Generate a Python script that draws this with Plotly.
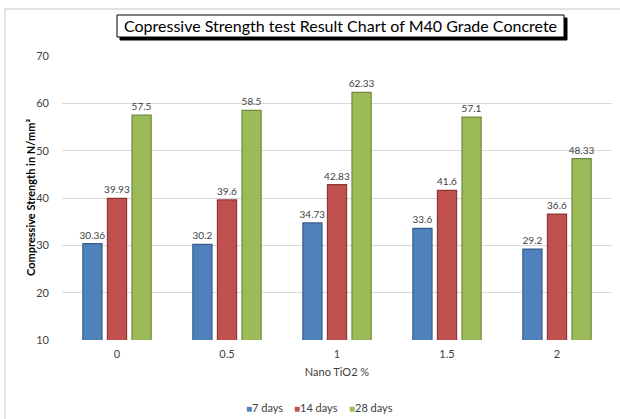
import plotly.graph_objects as go

categories = ["0", "0.5", "1", "1.5", "2"]
series_names = ["7 days", "14 days", "28 days"]
days7 = [30.36, 30.2, 34.73, 33.6, 29.2]
days14 = [39.93, 39.6, 42.83, 41.6, 36.6]
days28 = [57.5, 58.5, 62.33, 57.1, 48.33]
y_ticks = [10, 20, 30, 40, 50, 60, 70]

fills = ["#4F81BD", "#C0504D", "#9BBB59"]
lines = ["#385D8A", "#8C3836", "#71893F"]

W, H = 620, 419
L, R, T, B = 62, 612, 56, 340

def px(x):
    return (x - L) / (R - L)

def py(y):
    return (B - y) / (B - T)

FONT = "Lato, Open Sans, sans-serif"

fig = go.Figure()
for name, vals, fc, lc in zip(series_names, [days7, days14, days28], fills, lines):
    fig.add_trace(go.Bar(
        x=categories, y=vals, name=name,
        marker=dict(color=fc, line=dict(color=lc, width=1.2)),
        text=[str(v) for v in vals], textposition="outside",
        textfont=dict(size=10, color="#404040", family=FONT),
        constraintext="none",
        cliponaxis=False, showlegend=False,
    ))

fig.update_layout(
    width=W, height=H,
    margin=dict(l=L, r=W - R, t=T, b=H - B, autoexpand=False),
    paper_bgcolor="white", plot_bgcolor="white",
    barmode="group", bargap=0.33, bargroupgap=0.22,
    font=dict(family=FONT, color="#404040", size=11),
    xaxis=dict(type="category", showgrid=False, showline=False, ticks="", zeroline=False,
               ticklabelstandoff=6,
               tickfont=dict(size=11, color="#404040"),
               title=dict(text="Nano TiO2 %", font=dict(size=11, color="#404040"), standoff=9)),
    yaxis=dict(range=[10, 70], tickvals=y_ticks, showgrid=True, gridcolor="#D9D9D9", gridwidth=1,
               zeroline=False, showline=False, ticks="", ticklabelstandoff=12,
               tickfont=dict(size=11, color="#404040")),
)

# y-axis title
fig.add_annotation(xref="paper", yref="paper", x=px(30), y=py(198), showarrow=False,
                   textangle=-90, xanchor="center", yanchor="middle",
                   text="<b>Compressive Strength in N/mm²</b>",
                   font=dict(size=11, color="#000000", family=FONT))

# custom legend
legend_x = [244, 292, 347]
for name, fc, lx in zip(series_names, fills, legend_x):
    fig.add_annotation(xref="paper", yref="paper", x=px(lx), y=py(407), showarrow=False,
                       xanchor="left", yanchor="middle",
                       text=f'<span style="color:{fc};font-size:10px">■</span>{name}',
                       font=dict(size=11, color="#404040", family=FONT))

# outer border (left and top edges)
fig.add_shape(type="line", xref="paper", yref="paper",
              x0=px(5), y0=py(9), x1=px(5), y1=py(419),
              line=dict(color="#D9D9D9", width=1.5), layer="below")
fig.add_shape(type="line", xref="paper", yref="paper",
              x0=px(5), y0=py(9), x1=px(620), y1=py(9),
              line=dict(color="#D9D9D9", width=1.5), layer="below")
# white cover at right edge
fig.add_shape(type="rect", xref="paper", yref="paper",
              x0=px(612.5), y0=py(419), x1=px(620), y1=py(10),
              line=dict(width=0), fillcolor="#FFFFFF", layer="above")
# title shadow and box
fig.add_shape(type="rect", xref="paper", yref="paper",
              x0=px(120), y0=py(40), x1=px(567), y1=py(18),
              line=dict(color="#000000", width=1), fillcolor="#000000")
fig.add_shape(type="rect", xref="paper", yref="paper",
              x0=px(117), y0=py(37), x1=px(564), y1=py(15),
              line=dict(color="#000000", width=1), fillcolor="#FFFFFF")
fig.add_annotation(xref="paper", yref="paper", x=px(340.5), y=py(26), showarrow=False,
                   text="Copressive Strength test Result Chart of M40 Grade Concrete",
                   font=dict(size=16, color="#000000", family=FONT), xanchor="center", yanchor="middle")

fig.write_html("out.html", config={"displayModeBar": False},
               post_script="document.body.style.margin='0';document.body.style.overflow='hidden';document.documentElement.style.overflow='hidden';")
